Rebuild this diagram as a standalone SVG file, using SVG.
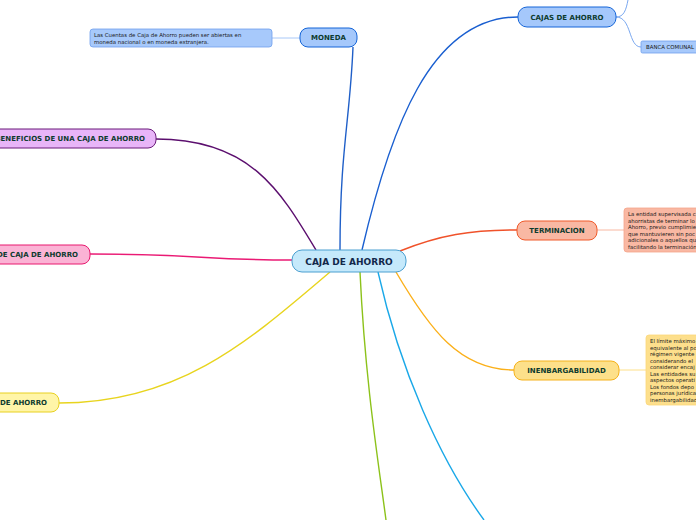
<svg xmlns="http://www.w3.org/2000/svg" width="696" height="520" viewBox="0 0 696 520">
<style>
.t{font-family:"DejaVu Sans",Verdana,sans-serif;font-weight:bold;fill:#0d3b2e;text-anchor:middle;dominant-baseline:central}
.n{font-family:"DejaVu Sans",Verdana,sans-serif;font-size:5.4px;fill:#1a1a1a}
.c{fill:none;stroke-width:1.4}
</style>
<rect width="696" height="520" fill="#ffffff"/>
<g id="connectors">
<path class="c" stroke="#1f5fc8" d="M340,250 C340,150 350,120 353,47"/>
<path class="c" stroke="#1a5fd0" d="M362,250 C390,130 430,17 518,17"/>
<path class="c" stroke="#5b0e6e" d="M156,139 C250,139 280,190 316,250"/>
<path class="c" stroke="#ea1a74" d="M90,254 C200,254 200,260 292,260"/>
<path class="c" stroke="#e8d41e" d="M59,403 C180,403 250,340 330,272"/>
<path class="c" stroke="#f0522a" d="M400,251 C440,235 470,230 517,230"/>
<path class="c" stroke="#fbb01a" d="M396,272 C430,330 460,370 514,370"/>
<path class="c" stroke="#8cc21a" d="M360,272 C365,380 378,460 386,520"/>
<path class="c" stroke="#1aa8e8" d="M378,272 C400,370 440,460 484,520"/>
<path fill="none" stroke="#a8c8f8" stroke-width="1" d="M272,38 L300,38"/>
<path fill="none" stroke="#7aa8f0" stroke-width="1" d="M616,17 C624,17 626,10 628,0"/>
<path fill="none" stroke="#7aa8f0" stroke-width="1" d="M616,17 C632,17 628,47 641,47"/>
<path fill="none" stroke="#f8b8a2" stroke-width="1" d="M597,230 L624,230"/>
<path fill="none" stroke="#fde08a" stroke-width="1" d="M619,370 L646,370"/>
</g>
<g id="central">
<rect x="292" y="250" width="114" height="22" rx="10" fill="#c5e9fb" stroke="#4a9fd0" stroke-width="1"/>
<text class="t" x="349" y="261.5" font-size="9" style="fill:#12284a">CAJA DE AHORRO</text>
</g>
<g id="moneda">
<rect x="300" y="28" width="57" height="19" rx="8" fill="#a5c8fb" stroke="#1565d8" stroke-width="1"/>
<text class="t" x="328.5" y="38" font-size="7">MONEDA</text>
</g>
<g id="moneda-note">
<rect x="90" y="29" width="182" height="18" rx="3" fill="#a7c9fb" stroke="#6fa0ee" stroke-width="0.8"/>
<text class="n" x="94" y="36.5">Las Cuentas de Caja de Ahorro pueden ser abiertas en</text>
<text class="n" x="94" y="43.5">moneda nacional o en moneda extranjera.</text>
</g>
<g id="cajas">
<rect x="518" y="7" width="98" height="20" rx="9" fill="#a5c8fb" stroke="#1565d8" stroke-width="1"/>
<text class="t" x="567" y="17.5" font-size="7">CAJAS DE AHORRO</text>
</g>
<g id="banca">
<rect x="641" y="41" width="60" height="12" rx="1.5" fill="#a7c9fb" stroke="#6fa0ee" stroke-width="0.8"/>
<text class="n" x="646" y="49">BANCA COMUNAL</text>
</g>
<g id="beneficios">
<rect x="-20" y="129" width="176" height="19" rx="8" fill="#e8b5f8" stroke="#6a1a7a" stroke-width="1"/>
<text class="t" x="145" y="139" font-size="7" style="text-anchor:end">BENEFICIOS DE UNA CAJA DE AHORRO</text>
</g>
<g id="pink">
<rect x="-20" y="245" width="110" height="19" rx="8" fill="#fbb3d5" stroke="#e8186e" stroke-width="1"/>
<text class="t" x="78" y="255" font-size="7" style="text-anchor:end">DE CAJA DE AHORRO</text>
</g>
<g id="yellow">
<rect x="-20" y="393" width="79" height="19" rx="8" fill="#fff5a8" stroke="#e8d020" stroke-width="1"/>
<text class="t" x="47" y="403" font-size="7" style="text-anchor:end">DE AHORRO</text>
</g>
<g id="terminacion">
<rect x="517" y="221" width="80" height="19" rx="8" fill="#f9b8a3" stroke="#f05a2a" stroke-width="1"/>
<text class="t" x="557" y="231" font-size="7">TERMINACION</text>
</g>
<g id="terminacion-note">
<rect x="624" y="208" width="90" height="44" rx="3" fill="#f9b8a3" stroke="#f5a58a" stroke-width="0.8"/>
<text class="n" x="628" y="216">La entidad supervisada c</text>
<text class="n" x="628" y="222.5">ahorristas de terminar lo</text>
<text class="n" x="628" y="229">Ahorro, previo cumplimie</text>
<text class="n" x="628" y="235.5">que mantuvieren sin poc</text>
<text class="n" x="628" y="242">adicionales o aquellos qu</text>
<text class="n" x="628" y="248.5">facilitando la terminación</text>
</g>
<g id="inenbargabilidad">
<rect x="514" y="361" width="105" height="19" rx="8" fill="#fde08a" stroke="#f5b21c" stroke-width="1"/>
<text class="t" x="566.5" y="371" font-size="7">INENBARGABILIDAD</text>
</g>
<g id="inenbargabilidad-note">
<rect x="646" y="335" width="70" height="70" rx="3" fill="#fddf8c" stroke="#fbd77a" stroke-width="0.8"/>
<text class="n" x="650" y="343">El límite máximo</text>
<text class="n" x="650" y="349.5">equivalente al po</text>
<text class="n" x="650" y="356">régimen vigente</text>
<text class="n" x="650" y="362.5">considerando el</text>
<text class="n" x="650" y="369">considerar encaj</text>
<text class="n" x="650" y="375.5">Las entidades su</text>
<text class="n" x="650" y="382">aspectos operati</text>
<text class="n" x="650" y="388.5">Los fondos depo</text>
<text class="n" x="650" y="395">personas jurídica</text>
<text class="n" x="650" y="401.5">inembargabilidad</text>
</g>
</svg>
